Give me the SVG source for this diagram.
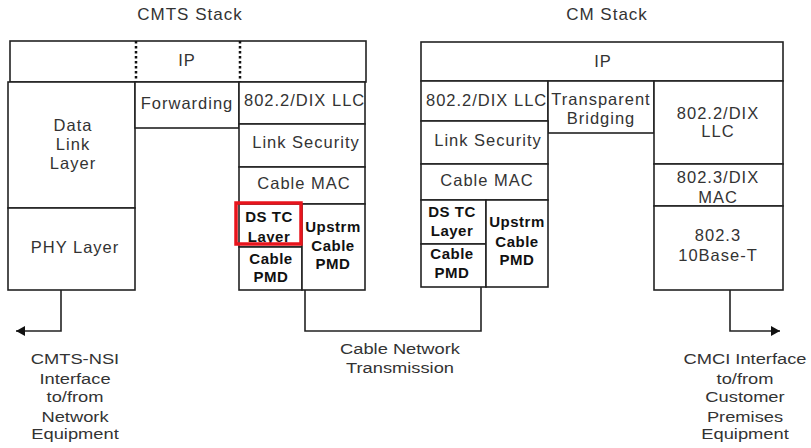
<svg xmlns="http://www.w3.org/2000/svg" width="811" height="448" viewBox="0 0 811 448">
<style>
.box{fill:#fff;stroke:#222;stroke-width:1.6}
.t{font-family:"Liberation Sans",Arial,sans-serif;font-size:16.5px;fill:#333;text-anchor:middle;letter-spacing:1px}
.b{font-family:"Liberation Sans",Arial,sans-serif;font-size:15px;font-weight:bold;fill:#111;text-anchor:middle;letter-spacing:0.5px}
.title{font-family:"Liberation Sans",Arial,sans-serif;font-size:17px;fill:#333;text-anchor:middle;letter-spacing:1px}
.lab{font-family:"Liberation Sans",Arial,sans-serif;font-size:15px;fill:#333;text-anchor:middle}
.dot{stroke:#111;stroke-width:2.5;stroke-dasharray:2.5 2.5;fill:none}
.wire{fill:none;stroke:#222;stroke-width:1.6}
</style>
<defs>
<marker id="arr" markerUnits="userSpaceOnUse" markerWidth="10" markerHeight="12" refX="9" refY="6" orient="auto">
<path d="M0,1 L9,6 L0,11 z" fill="#111"/>
</marker>
<clipPath id="c1"><rect x="239" y="82" width="126" height="42"/></clipPath>
<clipPath id="c2"><rect x="421" y="81" width="127" height="40"/></clipPath>
<clipPath id="c3"><rect x="548" y="81" width="106" height="52"/></clipPath>
</defs>
<rect width="811" height="448" fill="#fff"/>
<text class="title" x="190" y="20">CMTS Stack</text>
<text class="title" x="607" y="20">CM Stack</text>

<g id="connectors">
<path class="wire" d="M61,290 V331 H16" marker-end="url(#arr)"/>
<path class="wire" d="M305,290 V331 H481 V287"/>
<path class="wire" d="M730,290 V331 H780" marker-end="url(#arr)"/>
</g>

<g id="cmts-ip"><rect class="box" x="10" y="41" width="356" height="41"/>
<line class="dot" x1="136" y1="41" x2="136" y2="82"/><line class="dot" x1="240" y1="41" x2="240" y2="82"/>
<text class="t" x="187" y="66">IP</text></g>
<g id="cmts-dll"><rect class="box" x="8" y="82" width="127" height="126"/>
<text class="t" x="73" y="131">Data</text><text class="t" x="73" y="150">Link</text><text class="t" x="73" y="169">Layer</text></g>
<g id="cmts-phy"><rect class="box" x="8" y="208" width="127" height="82"/>
<text class="t" x="75" y="253">PHY Layer</text></g>
<g id="cmts-fwd"><rect class="box" x="135" y="82" width="104" height="46"/>
<text class="t" x="187" y="109">Forwarding</text></g>
<g id="cmts-llc"><rect class="box" x="239" y="82" width="126" height="42"/>
<text class="t" x="244" y="106" style="text-anchor:start" clip-path="url(#c1)">802.2/DIX LLC</text></g>
<g id="cmts-sec"><rect class="box" x="239" y="124" width="126" height="43"/>
<text class="t" x="306" y="148">Link Security</text></g>
<g id="cmts-mac"><rect class="box" x="239" y="167" width="126" height="37"/>
<text class="t" x="304" y="189">Cable MAC</text></g>
<g id="cmts-dstc"><rect class="box" x="239" y="204" width="63" height="43"/>
<text class="b" x="269" y="222">DS TC</text><text class="b" x="269" y="242">Layer</text></g>
<g id="cmts-pmd"><rect class="box" x="239" y="247" width="63" height="43"/>
<text class="b" x="271" y="264">Cable</text><text class="b" x="271" y="282">PMD</text></g>
<g id="cmts-up"><rect class="box" x="302" y="204" width="63" height="86"/>
<text class="b" x="333" y="232">Upstrm</text><text class="b" x="333" y="251">Cable</text><text class="b" x="333" y="269">PMD</text></g>
<g id="highlight"><rect x="236" y="203" width="65" height="41" fill="none" stroke="#e8141c" stroke-width="3.5"/></g>

<g id="cm-ip"><rect class="box" x="421" y="42" width="362" height="39"/>
<text class="t" x="603" y="67">IP</text></g>
<g id="cm-llc"><rect class="box" x="421" y="81" width="127" height="40"/>
<text class="t" x="426" y="106" style="text-anchor:start" clip-path="url(#c2)">802.2/DIX LLC</text></g>
<g id="cm-bridge"><rect class="box" x="548" y="81" width="106" height="52"/>
<text class="t" x="601" y="105" clip-path="url(#c3)">Transparent</text><text class="t" x="601" y="124">Bridging</text></g>
<g id="cm-sec"><rect class="box" x="421" y="121" width="127" height="43"/>
<text class="t" x="488" y="146">Link Security</text></g>
<g id="cm-mac"><rect class="box" x="421" y="164" width="127" height="36"/>
<text class="t" x="487" y="186">Cable MAC</text></g>
<g id="cm-dstc"><rect class="box" x="421" y="200" width="65" height="44"/>
<text class="b" x="452" y="217">DS TC</text><text class="b" x="452" y="236">Layer</text></g>
<g id="cm-pmd"><rect class="box" x="421" y="244" width="65" height="43"/>
<text class="b" x="452" y="259">Cable</text><text class="b" x="452" y="278">PMD</text></g>
<g id="cm-up"><rect class="box" x="486" y="200" width="62" height="87"/>
<text class="b" x="517" y="227">Upstrm</text><text class="b" x="517" y="247">Cable</text><text class="b" x="517" y="265">PMD</text></g>
<g id="cm-ellc"><rect class="box" x="654" y="81" width="129" height="83"/>
<text class="t" x="718" y="119">802.2/DIX</text><text class="t" x="718" y="137">LLC</text></g>
<g id="cm-emac"><rect class="box" x="654" y="164" width="129" height="42"/>
<text class="t" x="718" y="183">802.3/DIX</text><text class="t" x="718" y="203">MAC</text></g>
<g id="cm-10bt"><rect class="box" x="654" y="206" width="129" height="84"/>
<text class="t" x="718" y="241">802.3</text><text class="t" x="718" y="261">10Base-T</text></g>

<g id="labels">
<g transform="translate(75,0) scale(1.22,1)">
<text class="lab" x="0" y="364">CMTS-NSI</text><text class="lab" x="0" y="384">Interface</text><text class="lab" x="0" y="402">to/from</text><text class="lab" x="0" y="422">Network</text><text class="lab" x="0" y="439">Equipment</text>
</g>
<g transform="translate(400,0) scale(1.22,1)">
<text class="lab" x="0" y="354">Cable Network</text><text class="lab" x="0" y="373">Transmission</text>
</g>
<g transform="translate(745,0) scale(1.22,1)">
<text class="lab" x="0" y="364">CMCI Interface</text><text class="lab" x="0" y="384">to/from</text><text class="lab" x="0" y="402">Customer</text><text class="lab" x="0" y="422">Premises</text><text class="lab" x="0" y="439">Equipment</text>
</g>
</g>
</svg>
